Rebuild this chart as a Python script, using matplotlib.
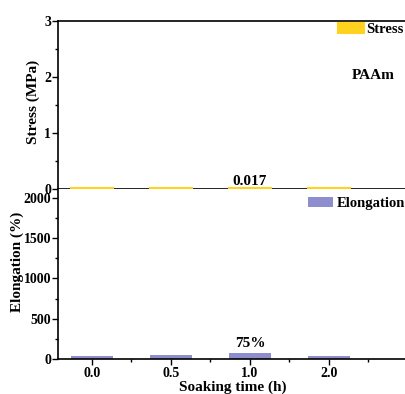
import matplotlib
matplotlib.use('Agg')
import numpy as np
from matplotlib import pyplot as plt, rcParams
from matplotlib.ticker import MultipleLocator

rcParams['font.family'] = ['Liberation Serif', 'DejaVu Serif']
rcParams['font.weight'] = 'bold'

# data
times = ['0.0', '0.5', '1.0', '2.0']
stress = [0.015, 0.016, 0.017, 0.015]
elongation = [40, 45, 75, 40]

yellow = '#FFD21F'
purple = '#8E8ECF'
fs = 11
tfs = 10
lfs = 10.5

fig = plt.figure(figsize=(4.06, 3.94), dpi=100)
ax1 = fig.add_axes([58 / 406, 1 - 189 / 394, 350 / 406, 168 / 394])
ax2 = fig.add_axes([58 / 406, 1 - 359 / 394, 350 / 406, 170 / 394])

x = np.arange(len(times))

# stress panel
ax1.bar(x, stress, width=0.52, color=yellow, edgecolor=yellow, linewidth=1.5,
        label='Stress', zorder=3, clip_on=False)
ax1.set_xlim(-0.43, 4.0)
ax1.set_ylim(0, 3)
ax1.yaxis.set_major_locator(MultipleLocator(1))
ax1.yaxis.set_minor_locator(MultipleLocator(0.5))
ax1.tick_params(axis='x', which='both', bottom=False, labelbottom=False)
ax1.tick_params(axis='y', which='major', direction='out', length=4, width=1, labelsize=tfs, pad=1)
ax1.tick_params(axis='y', which='minor', direction='out', length=2, width=1)
ax1.spines['right'].set_visible(False)
for s in ['top', 'left', 'bottom']:
    ax1.spines[s].set_linewidth(1.2)
ax1.set_ylabel('Stress (MPa)', fontsize=fs, fontweight='bold')
ax1.yaxis.set_label_coords(-0.051, 0.518)
ax1.annotate('%.3f' % stress[2], (x[2], stress[2]), xytext=(0, 2.5), textcoords='offset points',
             ha='center', va='baseline', fontsize=fs)
ax1.text(3.56, 2.02, 'PAAm', ha='center', va='center', fontsize=fs)
ax1.legend(loc='upper left', bbox_to_anchor=(0.8, 0.99), frameon=False, fontsize=lfs,
           borderpad=0, borderaxespad=0, handlelength=1.8, handleheight=0.7, handletextpad=0.13)

# elongation panel
ax2.bar(x, elongation, width=0.52, color=purple, label='Elongation', zorder=2)
ax2.set_xlim(-0.43, 4.0)
ax2.set_ylim(0, 2110)
ax2.set_xticks(x)
ax2.set_xticklabels(times)
ax2.xaxis.set_minor_locator(MultipleLocator(0.5))
ax2.yaxis.set_major_locator(MultipleLocator(500))
ax2.yaxis.set_minor_locator(MultipleLocator(250))
ax2.tick_params(axis='both', which='major', direction='out', length=4, width=1, labelsize=tfs, pad=1)
ax2.tick_params(axis='both', which='minor', direction='out', length=2, width=1)
ax2.tick_params(axis='x', pad=2)
ax2.spines['right'].set_visible(False)
ax2.spines['top'].set_visible(False)
for s in ['left', 'bottom']:
    ax2.spines[s].set_linewidth(1.2)
ax2.set_xlabel('Soaking time (h)', fontsize=fs, fontweight='bold', labelpad=0)
ax2.set_ylabel('Elongation (%)', fontsize=fs, fontweight='bold')
ax2.yaxis.set_label_coords(-0.097, 0.57)
ax2.annotate('%d%%' % elongation[2], (x[2], elongation[2]), xytext=(0, 4), textcoords='offset points',
             ha='center', va='baseline', fontsize=fs)
ax2.legend(loc='upper left', bbox_to_anchor=(0.714, 0.955), frameon=False, fontsize=lfs,
           borderpad=0, borderaxespad=0, handlelength=1.7, handleheight=0.7, handletextpad=0.26)

fig.savefig('out.png', dpi=100)
